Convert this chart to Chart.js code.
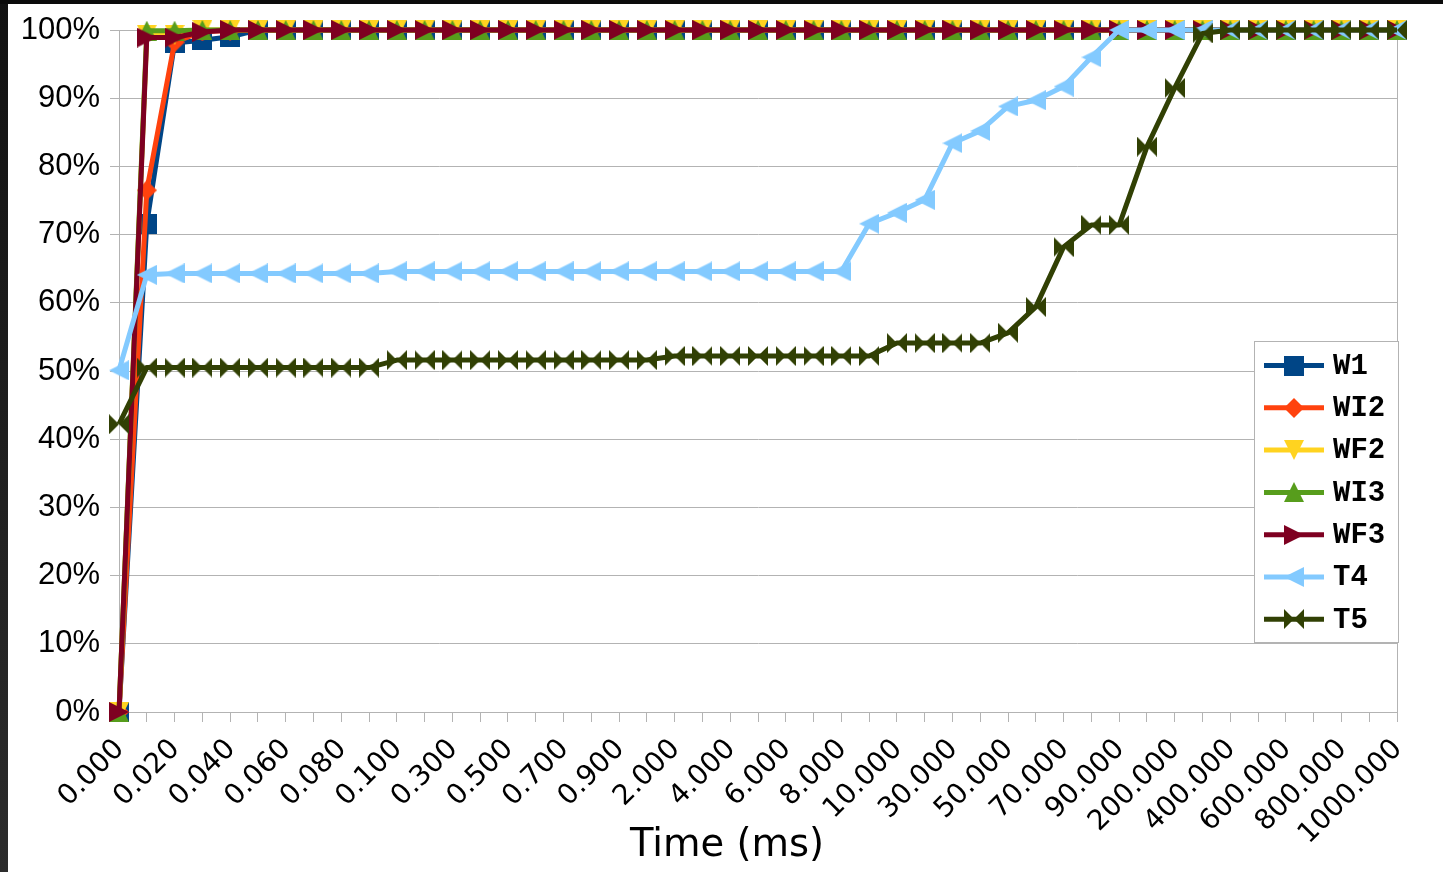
<!DOCTYPE html>
<html><head><meta charset="utf-8">
<script src="https://cdn.jsdelivr.net/npm/chart.js@4/dist/chart.umd.min.js"></script>
<style>
html,body{margin:0;padding:0;background:#fff;width:1443px;height:872px;overflow:hidden}
#c{position:absolute;left:0;top:0}
#lb{position:absolute;left:0;top:0;width:8px;height:872px;background:linear-gradient(#121212,#2c2c2c)}
#tb{position:absolute;left:0;top:0;width:1443px;height:4px;background:#0b0b0b}
</style></head><body>
<canvas id="c" width="1443" height="872"></canvas>
<div id="lb"></div><div id="tb"></div>
<script>
const categories = ['0.000','0.010','0.020','0.030','0.040','0.050','0.060','0.070','0.080','0.090',
  '0.100','0.200','0.300','0.400','0.500','0.600','0.700','0.800','0.900',
  '1.000','2.000','3.000','4.000','5.000','6.000','7.000','8.000','9.000',
  '10.000','20.000','30.000','40.000','50.000','60.000','70.000','80.000','90.000',
  '100.000','200.000','300.000','400.000','500.000','600.000','700.000','800.000','900.000','1000.000'];
const xTickLabels = ['0.000','','0.020','','0.040','','0.060','','0.080','',
  '0.100','','0.300','','0.500','','0.700','','0.900',
  '','2.000','','4.000','','6.000','','8.000','',
  '10.000','','30.000','','50.000','','70.000','','90.000',
  '','200.000','','400.000','','600.000','','800.000','','1000.000'];
const yTickValues = [0,10,20,30,40,50,60,70,80,90,100];
const seriesNames = ['W1','WI2','WF2','WI3','WF3','T4','T5'];

const W1  = [0,71.6,98.1,98.5,99.0,100,100,100,100,100, 100,100,100,100,100,100,100,100,100, 100,100,100,100,100,100,100,100,100, 100,100,100,100,100,100,100,100,100, 100,100,100,100,100,100,100,100,100,100];
const WI2 = [0,76.5,98.2,99.8,99.9,100,100,100,100,100, 100,100,100,100,100,100,100,100,100, 100,100,100,100,100,100,100,100,100, 100,100,100,100,100,100,100,100,100, 100,100,100,100,100,100,100,100,100,100];
const WF2 = [0,99.3,99.3,100,100,100,100,100,100,100, 100,100,100,100,100,100,100,100,100, 100,100,100,100,100,100,100,100,100, 100,100,100,100,100,100,100,100,100, 100,100,100,100,100,100,100,100,100,100];
const WI3 = [0,99.9,99.9,100,100,100,100,100,100,100, 100,100,100,100,100,100,100,100,100, 100,100,100,100,100,100,100,100,100, 100,100,100,100,100,100,100,100,100, 100,100,100,100,100,100,100,100,100,100];
const WF3 = [0,98.9,98.9,99.7,100,100,100,100,100,100, 100,100,100,100,100,100,100,100,100, 100,100,100,100,100,100,100,100,100, 100,100,100,100,100,100,100,100,100, 100,100,100,100,100,100,100,100,100,100];
const T4  = [50.1,64.1,64.3,64.3,64.3,64.3,64.3,64.3,64.3,64.3, 64.6,64.6,64.6,64.6,64.6,64.6,64.6,64.6,64.6, 64.6,64.6,64.6,64.6,64.6,64.6,64.6,64.6,71.6, 73.2,75.1,83.4,85.2,88.8,89.7,91.7,96.0,100, 100,100,100,100,100,100,100,100,100,100];
const T5  = [42.2,50.5,50.5,50.5,50.5,50.5,50.5,50.5,50.5,50.5, 51.6,51.6,51.6,51.6,51.6,51.6,51.6,51.6,51.6, 51.6,52.2,52.2,52.2,52.2,52.2,52.2,52.2,52.2, 54.1,54.1,54.1,54.1,55.6,59.4,68.2,71.4,71.4, 82.9,91.5,99.5,100,100,100,100,100,100,100];

const seriesValues = [W1, WI2, WF2, WI3, WF3, T4, T5];
const seriesColors = ['#004586','#ff420e','#ffd320','#579d1c','#7e0021','#83caff','#314004'];
const seriesShapes = ['square','diamond','down','up','right','left','bowtie'];

function makeMarker(shape, color) {
  const s = 20;
  const cv = document.createElement('canvas');
  cv.width = s; cv.height = s;
  const g = cv.getContext('2d');
  g.fillStyle = color;
  g.beginPath();
  const P = pts => { g.moveTo(pts[0][0], pts[0][1]); for (let k = 1; k < pts.length; k++) g.lineTo(pts[k][0], pts[k][1]); g.closePath(); };
  if (shape === 'square') g.rect(0, 0, s, s);
  else if (shape === 'diamond') P([[s/2,0],[s,s/2],[s/2,s],[0,s/2]]);
  else if (shape === 'down') P([[0,0],[s,0],[s/2,s]]);
  else if (shape === 'up') P([[s/2,0],[s,s],[0,s]]);
  else if (shape === 'right') P([[0,0],[s,s/2],[0,s]]);
  else if (shape === 'left') P([[s,0],[0,s/2],[s,s]]);
  else if (shape === 'bowtie') { P([[0,0],[s/2,s/2],[0,s]]); P([[s,0],[s/2,s/2],[s,s]]); }
  g.fill();
  return cv;
}

const datasets = seriesNames.map((name, i) => ({
  label: name,
  data: seriesValues[i],
  borderColor: seriesColors[i],
  backgroundColor: seriesColors[i],
  borderWidth: 5,
  borderJoinStyle: 'round',
  tension: 0,
  pointStyle: makeMarker(seriesShapes[i], seriesColors[i]),
  pointRadius: 10,
  pointBorderWidth: 0,
  clip: false,
  order: seriesNames.length - i,
  yAxisID: 'y'
}));

const legendPlugin = {
  id: 'boxLegend',
  afterDraw(chart) {
    const ctx = chart.ctx;
    ctx.save();
    ctx.fillStyle = '#fff';
    ctx.fillRect(1254, 341, 145, 302);
    ctx.strokeStyle = '#b3b3b3'; ctx.lineWidth = 1;
    ctx.strokeRect(1254.5, 341.5, 144, 301);
    chart.data.datasets.forEach((ds, i) => {
      const y = 365.5 + i * 42.3;
      ctx.strokeStyle = ds.borderColor; ctx.lineWidth = 5;
      ctx.beginPath(); ctx.moveTo(1264, y); ctx.lineTo(1324, y); ctx.stroke();
      ctx.drawImage(ds.pointStyle, 1294 - 10, Math.round(y - 10));
      ctx.fillStyle = '#000';
      ctx.font = 'bold 29px "Liberation Mono"';
      ctx.textBaseline = 'middle';
      ctx.textAlign = 'left';
      ctx.fillText(ds.label, 1333, y + 1);
    });
    ctx.restore();
  }
};

new Chart(document.getElementById('c'), {
  type: 'line',
  data: { labels: categories, datasets },
  plugins: [legendPlugin],
  options: {
    responsive: false,
    animation: false,
    events: [],
    layout: { padding: { left: 11, right: 0, top: 30, bottom: 3.4 } },
    plugins: {
      legend: { display: false },
      tooltip: { enabled: false },
      title: {
        display: true, position: 'bottom', text: 'Time (ms)', color: '#000',
        font: { family: 'DejaVu Sans', size: 38.5, weight: 'normal', lineHeight: 1.2 },
        padding: { top: -30, bottom: 0 }
      }
    },
    scales: {
      x: {
        type: 'category',
        offset: false,
        grid: { display: true, drawOnChartArea: false, drawTicks: true, tickLength: 10, color: '#b3b3b3', offset: false },
        border: { display: true, color: '#b3b3b3' },
        ticks: {
          autoSkip: false, maxRotation: 45, minRotation: 45, padding: 11, labelOffset: 1, color: '#000',
          font: { family: 'DejaVu Sans', size: 28 },
          callback: (v, i) => xTickLabels[i]
        },
        afterFit: s => { s.height = 140.4; s.paddingLeft = 0; s.paddingRight = 0; }
      },
      y: {
        min: 0, max: 100,
        afterBuildTicks: s => { s.ticks = yTickValues.map(v => ({ value: v })); },
        ticks: { padding: 10, color: '#000', font: { family: 'Liberation Sans', size: 31 }, callback: v => v + '%' },
        grid: { color: '#b3b3b3', tickLength: 9 },
        border: { display: true, color: '#b3b3b3' },
        afterFit: s => { s.width = 108; s.paddingTop = 0; s.paddingBottom = 0; }
      },
      y2: {
        position: 'right', min: 0, max: 100, display: true,
        grid: { display: false, drawTicks: false },
        border: { display: true, color: '#b3b3b3' },
        ticks: { display: false },
        afterFit: s => { s.width = 46; s.paddingTop = 0; s.paddingBottom = 0; }
      }
    }
  }
});
</script>
</body></html>
